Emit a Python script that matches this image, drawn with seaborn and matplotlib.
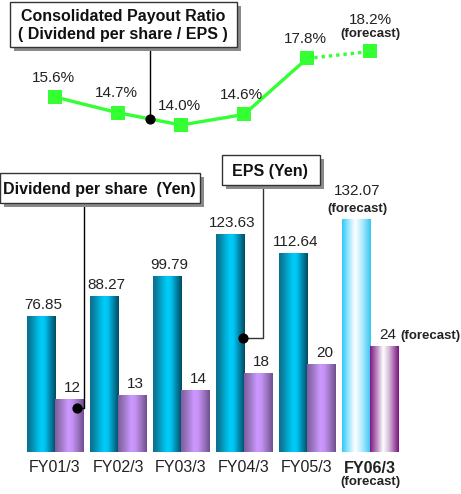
import numpy as np
import pandas as pd
import matplotlib
matplotlib.use("Agg")
import matplotlib.pyplot as plt
import seaborn as sns
from matplotlib.colors import LinearSegmentedColormap
from matplotlib.patches import Rectangle

# ---------------- data ----------------
years = ["FY01/3", "FY02/3", "FY03/3", "FY04/3", "FY05/3", "FY06/3"]
eps = [76.85, 88.27, 99.79, 123.63, 112.64, 132.07]
dividend = [12, 13, 14, 18, 20, 24]
payout = [15.6, 14.7, 14.0, 14.6, 17.8, 18.2]
eps_labels = ["76.85", "88.27", "99.79", "123.63", "112.64", "132.07"]
div_labels = ["12", "13", "14", "18", "20", "24"]
payout_labels = ["15.6%", "14.7%", "14.0%", "14.6%", "17.8%", "18.2%"]
forecast_idx = 5

sns.set_theme(style="white")
plt.rcParams["font.family"] = ["Liberation Sans", "DejaVu Sans"]

W, H = 461, 494
fig = plt.figure(figsize=(W / 100, H / 100), dpi=100)
fig.patch.set_facecolor("white")

# layout (pixels)
x0px, stepx = 55, 63
base_px = 452
eps_ppu = 1.765
div_ppu = 4.4
line_ref_px, line_ref_val, line_ppu = 125, 14.0, 17.5
xlim = (-x0px / stepx, (W - x0px) / stepx)

ax = fig.add_axes([0, 0, 1, 1])
ax2 = fig.add_axes([0, 0, 1, 1], label="div")
ax3 = fig.add_axes([0, 0, 1, 1], label="line")
ov = fig.add_axes([0, 0, 1, 1], label="overlay")
for a in (ax2, ax3, ov):
    a.patch.set_alpha(0)

df_e = pd.DataFrame({"year": years, "value": eps, "series": "EPS"})
df_d = pd.DataFrame({"year": years, "value": dividend, "series": "Dividend"})
hue_order = ["EPS", "Dividend"]
pal = {"EPS": "#00b8e0", "Dividend": "#b088e0"}
sns.barplot(data=df_e, x="year", y="value", hue="series", hue_order=hue_order,
            order=years, dodge=True, width=0.9, palette=pal, saturation=1,
            legend=False, ax=ax, linewidth=0)
sns.barplot(data=df_d, x="year", y="value", hue="series", hue_order=hue_order,
            order=years, dodge=True, width=0.9, palette=pal, saturation=1,
            legend=False, ax=ax2, linewidth=0)

cm_eps = LinearSegmentedColormap.from_list("eps", [
    (0.0, "#0b6f8d"), (0.12, "#0a7fa0"), (0.35, "#00b4dc"), (0.5, "#00ccfa"),
    (0.62, "#00c4f0"), (0.8, "#0088ad"), (1.0, "#004a62")])
cm_div = LinearSegmentedColormap.from_list("div", [
    (0.0, "#7e5c9e"), (0.25, "#a47dcc"), (0.45, "#cc99ff"), (0.6, "#c892f6"),
    (0.8, "#9a74c0"), (1.0, "#6f4f8f")])
cm_eps_f = LinearSegmentedColormap.from_list("epsf", [
    (0.0, "#30c8f8"), (0.2, "#90e4ff"), (0.45, "#ffffff"), (0.7, "#b0ecff"),
    (1.0, "#38c4f0")])
cm_div_f = LinearSegmentedColormap.from_list("divf", [
    (0.0, "#7d1a82"), (0.25, "#c090c4"), (0.45, "#ffffff"), (0.65, "#d8c0dc"),
    (1.0, "#7a1080")])


def shade(axis, patch, cmap):
    x, y = patch.get_x(), patch.get_y()
    w, h = patch.get_width(), patch.get_height()
    grad = np.linspace(0, 1, 128).reshape(1, -1)
    im = axis.imshow(grad, cmap=cmap, aspect="auto", origin="lower",
                     extent=(x, x + w, y, y + h), interpolation="bilinear",
                     zorder=patch.get_zorder() + 0.1)
    im.set_clip_path(patch)


eps_bars = [p for p in ax.patches if p.get_height() > 0]
div_bars = [p for p in ax2.patches if p.get_height() > 0]
for i, p in enumerate(eps_bars):
    shade(ax, p, cm_eps_f if i == forecast_idx else cm_eps)
for i, p in enumerate(div_bars):
    shade(ax2, p, cm_div_f if i == forecast_idx else cm_div)

ax.set_xlim(xlim)
ax2.set_xlim(xlim)
ax3.set_xlim(xlim)
ax.set_ylim(-(H - base_px) / eps_ppu, base_px / eps_ppu)
ax2.set_ylim(-(H - base_px) / div_ppu, base_px / div_ppu)
ax3.set_ylim(line_ref_val - (H - line_ref_px) / line_ppu,
             line_ref_val + line_ref_px / line_ppu)
for a in (ax, ax2, ax3, ov):
    a.axis("off")

# ---------------- bar labels ----------------
for i, p in enumerate(eps_bars):
    cx = p.get_x() + p.get_width() / 2
    top = p.get_height()
    if i == forecast_idx:
        ax.annotate("(forecast)", (cx, top), xytext=(1, 3), textcoords="offset points",
                    ha="center", va="bottom", fontsize=9.5, fontweight="bold", color="#222222")
        ax.annotate(eps_labels[i], (cx, top), xytext=(1, 15), textcoords="offset points",
                    ha="center", va="bottom", fontsize=11, color="#222222")
    else:
        ax.annotate(eps_labels[i], (cx, top), xytext=(2, 3), textcoords="offset points",
                    ha="center", va="bottom", fontsize=11, color="#222222")
for i, p in enumerate(div_bars):
    cx = p.get_x() + p.get_width() / 2
    top = p.get_height()
    ax2.annotate(div_labels[i], (cx, top), xytext=(2.5, 3), textcoords="offset points",
                 ha="center", va="bottom", fontsize=11, color="#222222")
    if i == forecast_idx:
        ax2.annotate("(forecast)", (p.get_x() + p.get_width(), top), xytext=(1.5, 3.5),
                     textcoords="offset points", ha="left", va="bottom",
                     fontsize=9.5, fontweight="bold", color="#222222")

# x category labels
for i, lab in enumerate(years):
    if i == forecast_idx:
        ax.annotate(lab, (i, 0), xytext=(0, -12), textcoords="offset points",
                    ha="center", va="center", fontsize=11.5, fontweight="bold", color="#222222")
        ax.annotate("(forecast)", (i, 0), xytext=(0, -21.5), textcoords="offset points",
                    ha="center", va="center", fontsize=9.5, fontweight="bold", color="#222222")
    else:
        ax.annotate(lab, (i, 0), xytext=(0, -11.5), textcoords="offset points",
                    ha="center", va="center", fontsize=11.5, color="#222222")

# ---------------- payout line ----------------
green = "#33ff33"
pos = np.arange(len(years))
sns.lineplot(x=pos[:forecast_idx], y=payout[:forecast_idx], ax=ax3, color=green,
             lw=2.4, zorder=3)
sns.lineplot(x=pos[forecast_idx - 1:], y=payout[forecast_idx - 1:], ax=ax3,
             color=green, lw=2.4, linestyle=(0, (1, 1.2)), zorder=3)
sns.scatterplot(x=pos, y=payout, ax=ax3, marker="s", s=95, color=green,
                linewidth=0, zorder=4)
ax3.set_xlim(xlim)
ax3.set_ylim(line_ref_val - (H - line_ref_px) / line_ppu,
             line_ref_val + line_ref_px / line_ppu)
for i, lab in enumerate(payout_labels):
    if i == forecast_idx:
        ax3.annotate("(forecast)", (pos[i], payout[i]), xytext=(0, 12.5),
                     textcoords="offset points", ha="center", va="center",
                     fontsize=9.5, fontweight="bold", color="#222222")
        ax3.annotate(lab, (pos[i], payout[i]), xytext=(0, 22.5),
                     textcoords="offset points", ha="center", va="center",
                     fontsize=11, color="#222222")
    else:
        dx = -2 if i == 3 else -1
        ax3.annotate(lab, (pos[i], payout[i]), xytext=(dx, 14),
                     textcoords="offset points", ha="center", va="center",
                     fontsize=11, color="#222222")
ax3.axis("off")

# ---------------- callout boxes (overlay in pixel space) ----------------
ov.set_xlim(0, W)
ov.set_ylim(H, 0)


def to_px(axis, x, y):
    dx, dy = axis.transData.transform((x, y))
    return dx, H - dy


def box(x, y, w, h):
    ov.add_patch(Rectangle((x + 4, y + 4), w, h, facecolor="#8a8a8a", edgecolor="none", zorder=5))
    ov.add_patch(Rectangle((x, y), w, h, facecolor="white", edgecolor="#333333", lw=1, zorder=6))


fig.canvas.draw()
# payout ratio callout
px, py = to_px(ax3, 1.5, (payout[1] + payout[2]) / 2)
box(10, 2, 227, 45)
ov.text(123, 17, "Consolidated Payout Ratio", ha="center", va="center",
        fontsize=11.5, fontweight="bold", color="#111111", zorder=7)
ov.text(123, 35, "( Dividend per share / EPS )", ha="center", va="center",
        fontsize=11.5, fontweight="bold", color="#111111", zorder=7)
ov.plot([px, px], [47, py], color="black", lw=1, zorder=4)
ov.scatter([px], [py], s=40, color="black", zorder=8)

# dividend callout
dx_, dy_ = to_px(ax2, 0.35, 10)
box(0, 173, 200, 30)
ov.text(99, 189, "Dividend per share  (Yen)", ha="center", va="center",
        fontsize=11.5, fontweight="bold", color="#111111", zorder=7)
ov.plot([dx_ + 7, dx_ + 7, dx_], [203, dy_, dy_], color="black", lw=1, zorder=4)
ov.scatter([dx_], [dy_], s=40, color="black", zorder=8)

# EPS callout
ex, ey = to_px(ax, 2.98, 64.6)
box(222, 155, 98, 30)
ov.text(270, 171, "EPS (Yen)", ha="center", va="center",
        fontsize=11.5, fontweight="bold", color="#111111", zorder=7)
ov.plot([ex + 20, ex + 20, ex], [185, ey, ey], color="#333333", lw=1, zorder=4)
ov.scatter([ex], [ey], s=40, color="black", zorder=8)

ov.set_xlim(0, W)
ov.set_ylim(H, 0)
ov.axis("off")

fig.savefig("out.png", dpi=100)
